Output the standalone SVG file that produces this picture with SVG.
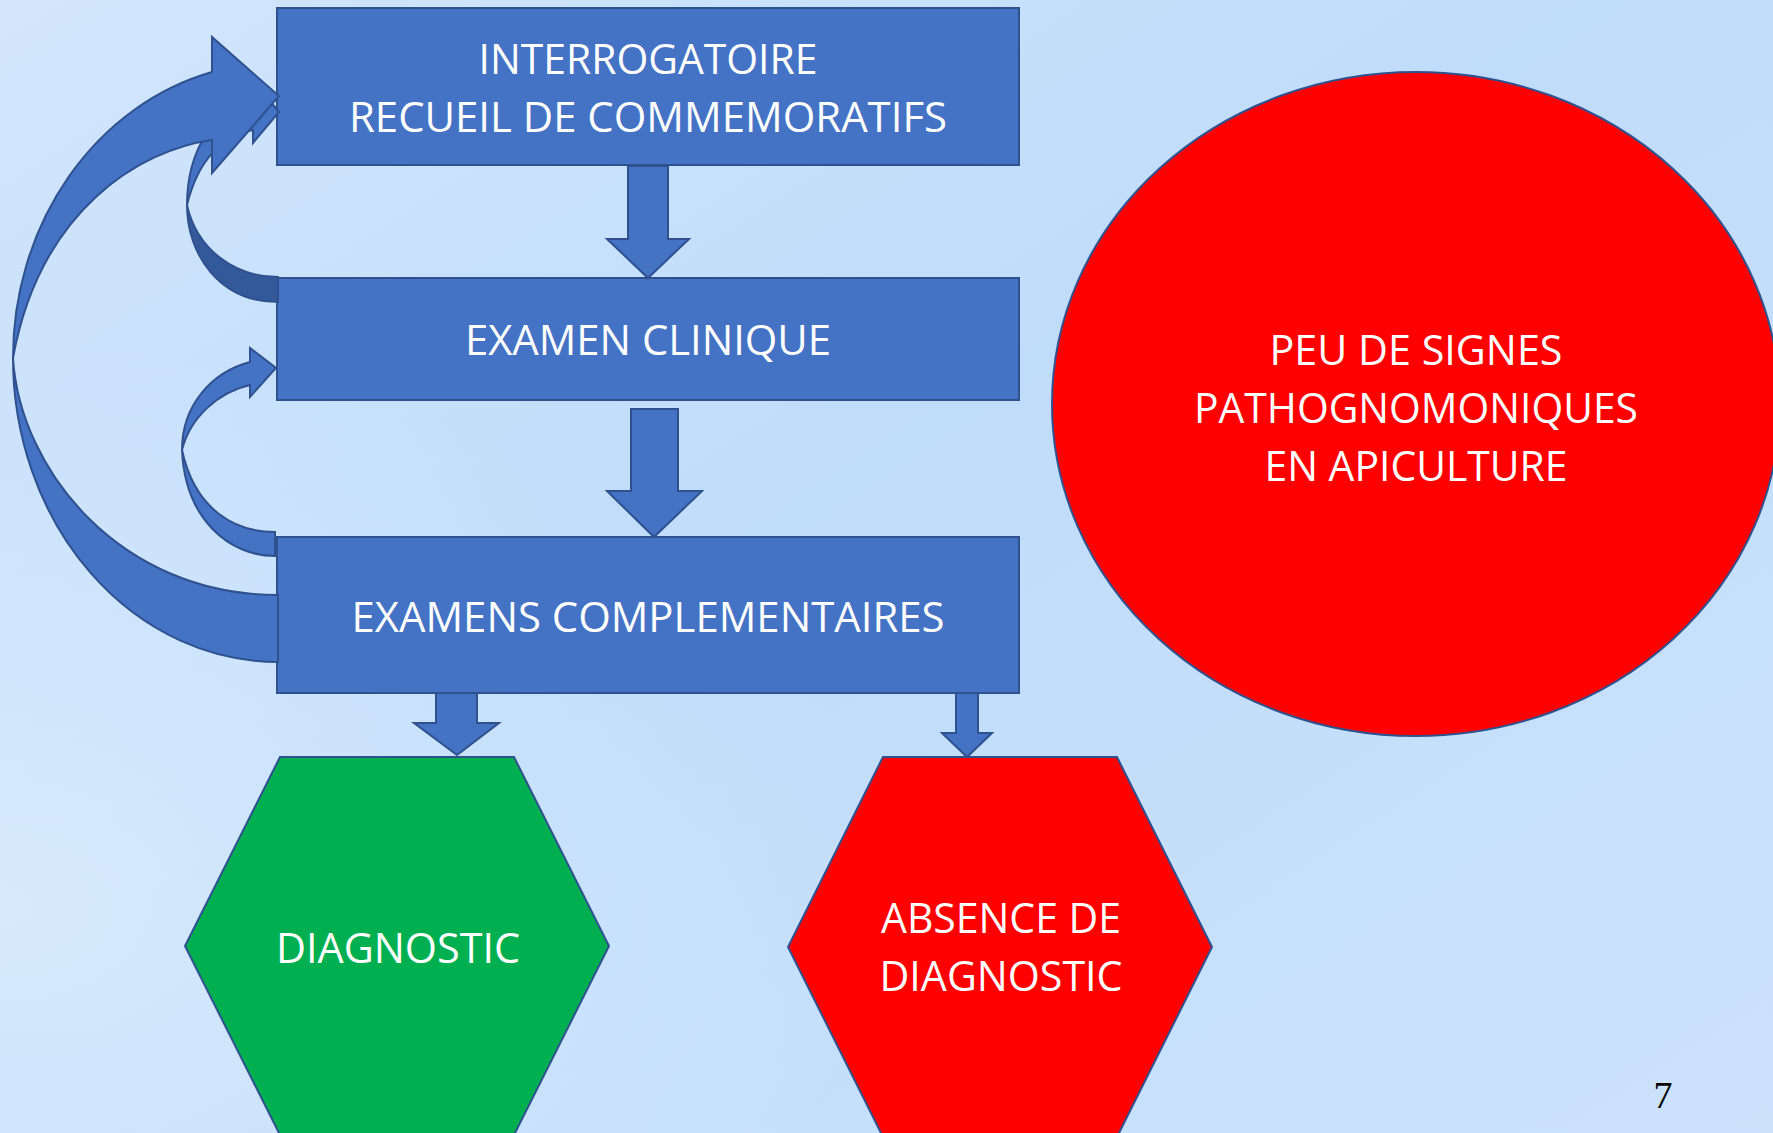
<svg xmlns="http://www.w3.org/2000/svg" width="1773" height="1133" viewBox="0 0 1773 1133">
<defs>
<linearGradient id="bg" x1="0" y1="0" x2="1" y2="1">
<stop offset="0" stop-color="#D3E6FC"/>
<stop offset="0.45" stop-color="#BFDCFA"/>
<stop offset="1" stop-color="#CCE2FB"/>
</linearGradient>
<radialGradient id="bgl" cx="0" cy="0.8" r="0.5">
<stop offset="0" stop-color="#DDEDFD" stop-opacity="0.8"/>
<stop offset="1" stop-color="#DDEDFD" stop-opacity="0"/>
</radialGradient>
<style>
.box{fill:#4472C4;stroke:#2F528F;stroke-width:2}
.arr{fill:#4472C4;stroke:#2F528F;stroke-width:2;stroke-linejoin:miter}
.dark{fill:#34599B;stroke:#2F528F;stroke-width:2}
.lbl{font-family:"Open Sans","Liberation Sans",sans-serif;font-size:42px;fill:#FFFFFF;text-anchor:middle}
.hexg{fill:#00B050;stroke:#2F528F;stroke-width:2}
.red{fill:#FF0000;stroke:#2F528F;stroke-width:2}
</style>
</defs>
<rect x="0" y="0" width="1773" height="1133" fill="url(#bg)"/>
<rect x="0" y="0" width="1773" height="1133" fill="url(#bgl)"/>

<g id="interrogatoire">
<rect class="box" x="277" y="8" width="742" height="157"/>
<text class="lbl" x="648" y="74" textLength="339" lengthAdjust="spacingAndGlyphs">INTERROGATOIRE</text>
<text class="lbl" x="648" y="132" textLength="598" lengthAdjust="spacingAndGlyphs">RECUEIL DE COMMEMORATIFS</text>
</g>
<g id="examen-clinique">
<rect class="box" x="277" y="278" width="742" height="122"/>
<text class="lbl" x="648" y="355" textLength="366" lengthAdjust="spacingAndGlyphs">EXAMEN CLINIQUE</text>
</g>
<g id="examens-complementaires">
<rect class="box" x="277" y="537" width="742" height="156"/>
<text class="lbl" x="648" y="632" textLength="593" lengthAdjust="spacingAndGlyphs">EXAMENS COMPLEMENTAIRES</text>
</g>
<g id="diagnostic">
<polygon class="hexg" points="280,757 514,757 609,946 514,1135 280,1135 185,946"/>
<text class="lbl" x="398" y="963" textLength="244" lengthAdjust="spacingAndGlyphs">DIAGNOSTIC</text>
</g>
<g id="absence-diagnostic">
<polygon class="red" points="883,757 1117,757 1212,947 1117,1137 883,1137 788,947"/>
<text class="lbl" x="1001" y="933" textLength="240" lengthAdjust="spacingAndGlyphs">ABSENCE DE</text>
<text class="lbl" x="1001" y="991" textLength="243" lengthAdjust="spacingAndGlyphs">DIAGNOSTIC</text>
</g>
<g id="peu-de-signes">
<ellipse class="red" cx="1416" cy="404" rx="364" ry="332"/>
<text class="lbl" x="1416" y="365" textLength="293" lengthAdjust="spacingAndGlyphs">PEU DE SIGNES</text>
<text class="lbl" x="1416" y="423" textLength="444" lengthAdjust="spacingAndGlyphs">PATHOGNOMONIQUES</text>
<text class="lbl" x="1416" y="481" textLength="303" lengthAdjust="spacingAndGlyphs">EN APICULTURE</text>
</g>

<g id="connectors">
<polygon class="arr" points="628,166 668,166 668,239 689,239 648,278 607,239 628,239"/>
<polygon class="arr" points="631,409 678,409 678,491 702,491 654,537 607,491 631,491"/>
<polygon class="arr" points="436,693 477,693 477,723 499,723 457,755 414,723 436,723"/>
<polygon class="arr" points="956,693 978,693 978,733 992,733 967,757 942,733 956,733"/>
<g id="loop-small">
<path class="arr" d="M 182,450 C 185,520 230,556 275,556 L 275,532 C 235,532 195,510 182,450 Z"/>
<path class="arr" d="M 182,450 C 182,405 212,372 250,362 L 250,348 L 276,368 L 250,397 L 250,385 C 218,392 190,418 182,450 Z"/>
</g>
<g id="loop-medium">
<path class="dark" d="M 187,205 C 187,255 220,302 278,302 L 278,277 C 235,277 197,250 187,205 Z"/>
<path class="arr" d="M 187,205 C 187,150 215,108 253,99 L 253,80 L 279,112 L 253,143 L 253,130 C 222,136 198,160 187,205 Z"/>
</g>
<g id="loop-big">
<path class="arr" d="M 13,358 A 265 304 0 0 0 278,662 L 278,595 C 120,595 20,470 13,358 Z"/>
<path class="arr" d="M 13,358 A 265 295 0 0 1 212,72 L 212,37 L 279,96 L 212,173 L 212,140 C 140,150 40,210 13,358 Z"/>
</g>
</g>

<text x="1663" y="1108" font-family="Liberation Serif, serif" font-size="38" text-anchor="middle" fill="#000000">7</text>
</svg>
